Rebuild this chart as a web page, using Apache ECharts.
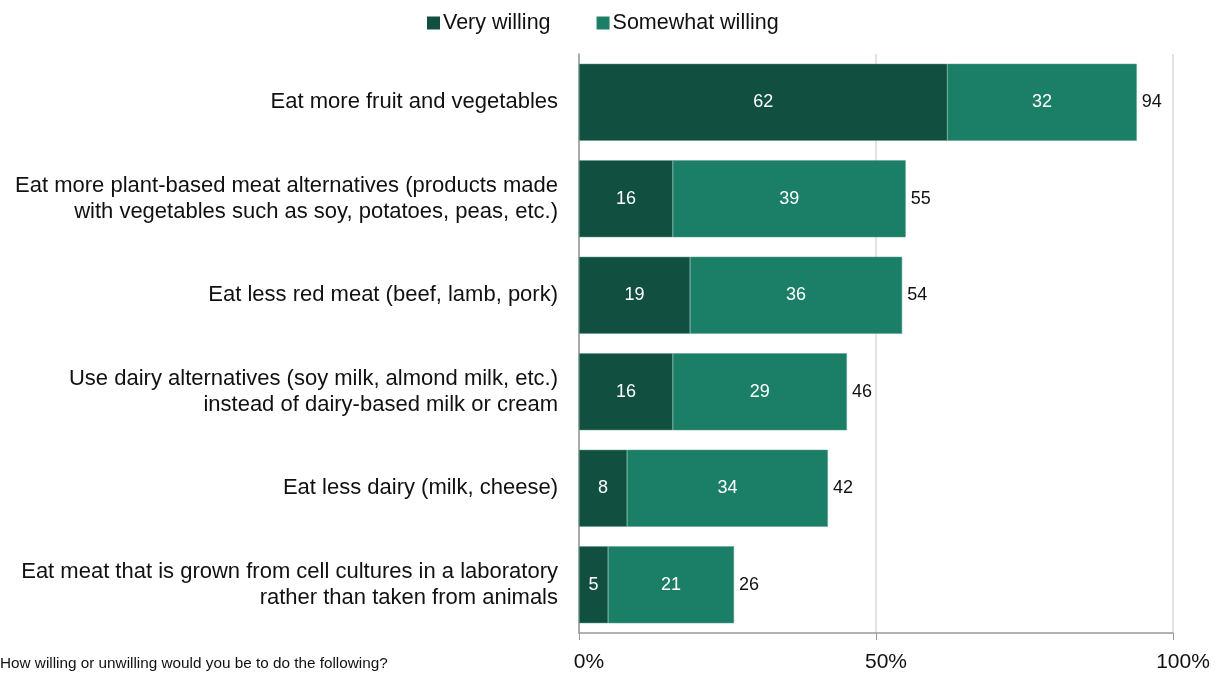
<!DOCTYPE html>
<html>
<head>
<meta charset="utf-8">
<script src="https://cdn.jsdelivr.net/npm/echarts@6/dist/echarts.min.js"></script>
<style>
  html, body { margin: 0; padding: 0; background: #fff; }
  #chart { width: 1221px; height: 673px; }
</style>
</head>
<body>
<div id="chart"></div>
<script>
var categories = [
    'Eat more fruit and vegetables',
    'Eat more plant-based meat alternatives (products made\nwith vegetables such as soy, potatoes, peas, etc.)',
    'Eat less red meat (beef, lamb, pork)',
    'Use dairy alternatives (soy milk, almond milk, etc.)\ninstead of dairy-based milk or cream',
    'Eat less dairy (milk, cheese)',
    'Eat meat that is grown from cell cultures in a laboratory\nrather than taken from animals'
];
var veryWilling = [62, 15.8, 18.7, 15.8, 8.1, 4.9];
var somewhatWilling = [31.9, 39.2, 35.7, 29.3, 33.8, 21.2];
var totals = [94, 55, 54, 46, 42, 26];
var xTicks = [0, 50, 100];

var font = 'Liberation Sans, Arial, sans-serif';
var chart = echarts.init(document.getElementById('chart'));

var sums = veryWilling.map(function (v, i) { return v + somewhatWilling[i]; });

chart.setOption({
    animation: false,
    textStyle: { fontFamily: font },
    color: ['#115040', '#1b7f67'],
    legend: {
        top: 7,
        left: 422,
        itemWidth: 13,
        itemHeight: 13,
        itemGap: 46,
        icon: 'rect',
        itemStyle: { borderWidth: 0 },
        textStyle: { fontSize: 21.5, color: '#111', fontFamily: font, padding: [0, 0, 0, -2] },
        data: ['Very willing', 'Somewhat willing']
    },
    grid: { left: 579, right: 48, top: 54, bottom: 40, containLabel: false },
    xAxis: {
        type: 'value',
        min: 0,
        max: 100,
        interval: 50,
        axisLine: { show: true, lineStyle: { color: '#999', width: 1.5 } },
        axisTick: { show: true, length: 7, lineStyle: { color: '#999' } },
        splitLine: { show: true, lineStyle: { color: '#d9d9d9', width: 1.5 } },
        axisLabel: {
            fontSize: 21, color: '#111', margin: 19, fontFamily: font,
            padding: [0, 0, 0, 20],
            formatter: function (v) { return xTicks.indexOf(v) >= 0 ? v + '%' : ''; }
        }
    },
    yAxis: {
        type: 'category',
        inverse: true,
        data: categories,
        axisLine: { show: true, lineStyle: { color: '#999', width: 1.5 } },
        axisTick: { show: false },
        axisLabel: {
            fontSize: 22, color: '#111', margin: 21, align: 'right',
            lineHeight: 26, fontFamily: font
        }
    },
    series: [
        {
            name: 'Very willing',
            type: 'bar',
            stack: 'total',
            barWidth: 77,
            data: veryWilling,
            itemStyle: { borderColor: '#5a9f8b', borderWidth: 0.5 },
            label: {
                show: true, position: 'inside', color: '#fff', fontSize: 18, fontFamily: font,
                formatter: function (p) { return Math.round(p.value); }
            }
        },
        {
            name: 'Somewhat willing',
            type: 'bar',
            stack: 'total',
            barWidth: 77,
            data: somewhatWilling,
            itemStyle: { borderColor: '#5a9f8b', borderWidth: 0.5 },
            label: {
                show: true, position: 'inside', color: '#fff', fontSize: 18, fontFamily: font,
                formatter: function (p) { return Math.round(p.value); }
            }
        },
        {
            name: 'Total',
            type: 'bar',
            barWidth: 77,
            barGap: '-100%',
            z: 1,
            data: sums,
            itemStyle: { color: 'rgba(0,0,0,0)' },
            label: {
                show: true, position: 'right', distance: 5, color: '#111', fontSize: 18, fontFamily: font,
                formatter: function (p) { return totals[p.dataIndex]; }
            },
            tooltip: { show: false }
        }
    ],
    graphic: [
        {
            type: 'text',
            left: 0,
            top: 656,
            style: {
                text: 'How willing or unwilling would you be to do the following?',
                fontSize: 15.3, fill: '#111', fontFamily: font
            }
        }
    ]
});
</script>
</body>
</html>
